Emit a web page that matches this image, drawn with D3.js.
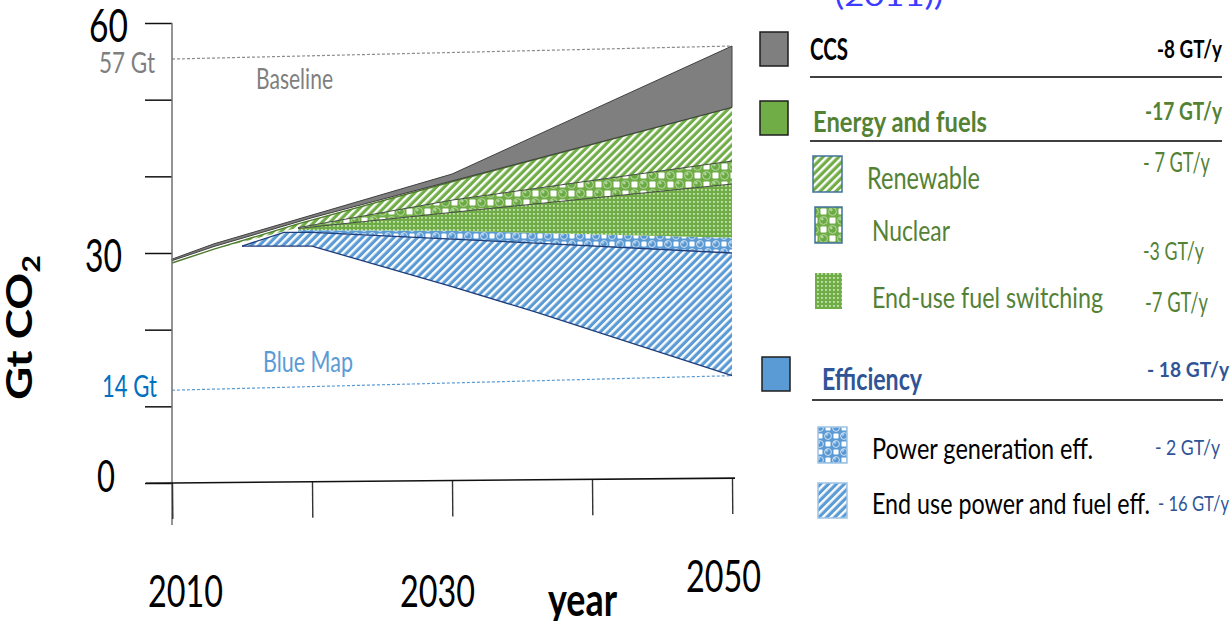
<!DOCTYPE html>
<html>
<head>
<meta charset="utf-8">
<script src="https://cdn.jsdelivr.net/npm/d3@7"></script>
<style>
  html, body { margin: 0; padding: 0; background: #fff; overflow: hidden; }
  svg { display: block; }
  text { font-family: Lato, "Noto Sans", sans-serif; }
</style>
</head>
<body>
<svg id="chart" width="1231" height="621"></svg>
<script>
// ---- data: CO2 emission wedges, each point is [year, lower Gt, upper Gt] ----
const ccs           = [[2010, 29.0, 29.2], [2013, 30.85, 31.2], [2020, 34.6, 34.95], [2030, 39.4, 40.3], [2050, 49, 57]];
const renewable     = [[2010, 28.7, 28.7], [2013, 30.5, 30.5], [2019, 33.3, 33.8], [2030, 36.9, 39.3], [2050, 42, 49]];
const nuclear       = [[2019, 33.2, 33.3], [2030, 35.3, 36.9], [2050, 39, 42]];
const fuelSwitching = [[2019, 33.0, 33.2], [2030, 32.9, 35.3], [2050, 32, 39]];
const powerGenEff   = [[2019, 32.7, 33.0], [2030, 31.8, 32.9], [2050, 30, 32]];
const endUseEff     = [[2015, 30.9, 30.9], [2018, 30.9, 32.7], [2020, 30.9, 32.7], [2030, 25.6, 31.8], [2036, 22.3, 31.3], [2050, 14, 30]];

// reference scenarios: [year, Gt]
const baselineRef = [[2010, 55.3], [2050, 57]];
const blueMapRef  = [[2010, 12.1], [2050, 14]];

// axes
const yTicks      = [0, 10, 20, 30, 40, 50, 60];
const yTickLabels = [0, 30, 60];
const xTicks      = [2010, 2020, 2030, 2040, 2050];
const xTickLabels = [2010, 2030, 2050];

// legend
const groupNames  = ["CCS", "Energy and fuels", "Efficiency"];
const groupValues = ["-8 GT/y", "-17 GT/y", "- 18 GT/y"];
const itemNames   = ["Renewable", "Nuclear", "End-use fuel switching", "Power generation eff.", "End use power and fuel eff."];
const itemValues  = ["- 7 GT/y", "-3 GT/y", "-7 GT/y", "- 2 GT/y", "- 16 GT/y"];

// ---- drawing ----
const svg = d3.select("#chart");
const x = d3.scaleLinear().domain([2010, 2050]).range([172, 732]);
const y = d3.scaleLinear().domain([0, 60]).range([483, 23]);

const GREEN = "#70AD47", BLUE = "#5B9BD5", GRAY = "#7F7F7F";
const defs = svg.append("defs");

function hatch(id, bg) {
  const p = defs.append("pattern").attr("id", id)
    .attr("patternUnits", "userSpaceOnUse").attr("width", 5.6).attr("height", 5.6)
    .attr("patternTransform", "rotate(45)");
  p.append("rect").attr("width", 5.6).attr("height", 5.6).attr("fill", bg);
  p.append("rect").attr("width", 2.4).attr("height", 5.6).attr("fill", "#fff");
}
// checker of white tiles and shaded balls
function spheres(id, bg, ball, ring, c) {
  const s = 2 * c;
  const p = defs.append("pattern").attr("id", id)
    .attr("patternUnits", "userSpaceOnUse").attr("width", s).attr("height", s);
  p.append("rect").attr("width", s).attr("height", s).attr("fill", bg);
  [[0, 0], [c, c]].forEach(([a, b]) =>
    p.append("rect").attr("x", a + 1.5).attr("y", b + 1.5).attr("width", c - 3).attr("height", c - 3)
      .attr("rx", 0.8).attr("fill", "#fff"));
  [[c, 0], [0, c]].forEach(([a, b]) => {
    p.append("circle").attr("cx", a + c / 2).attr("cy", b + c / 2).attr("r", c / 2 - 0.6)
      .attr("fill", ball).attr("stroke", ring).attr("stroke-width", 1);
    p.append("circle").attr("cx", a + c / 2 - 1.2).attr("cy", b + c / 2 - 1.4).attr("r", 1.3)
      .attr("fill", "#fff").attr("opacity", 0.5);
  });
}
function dots(id, bg, dot) {
  const p = defs.append("pattern").attr("id", id)
    .attr("patternUnits", "userSpaceOnUse").attr("width", 4).attr("height", 4);
  p.append("rect").attr("width", 4).attr("height", 4).attr("fill", bg);
  p.append("rect").attr("x", 1).attr("y", 1).attr("width", 1.8).attr("height", 1.8).attr("fill", dot);
}
hatch("renewFill", GREEN);
hatch("endUseFill", BLUE);
spheres("nuclearFill", GREEN, "#6AAA42", "#B7D9A0", 9);
spheres("powerFill", BLUE, "#5797D2", "#CFE2F3", 8);
dots("switchFill", GREEN, "#C8E4B4");

const area = d3.area().x(d => x(d[0])).y0(d => y(d[1])).y1(d => y(d[2]));
const lineHi = d3.line().x(d => x(d[0])).y(d => y(d[2]));
const lineLo = d3.line().x(d => x(d[0])).y(d => y(d[1]));
const refLine = d3.line().x(d => x(d[0])).y(d => y(d[1]));

const plot = svg.append("g");

// reference dashed lines
plot.append("path").attr("d", refLine(baselineRef)).attr("fill", "none")
  .attr("stroke", "#8C8C8C").attr("stroke-width", 1.2).attr("stroke-dasharray", "3,2");
plot.append("path").attr("d", refLine(blueMapRef)).attr("fill", "none")
  .attr("stroke", BLUE).attr("stroke-width", 1.2).attr("stroke-dasharray", "3,2");

// wedges, bottom to top
plot.append("path").attr("d", area(endUseEff)).attr("fill", "url(#endUseFill)");
plot.append("path").attr("d", area(powerGenEff)).attr("fill", "url(#powerFill)");
plot.append("path").attr("d", area(fuelSwitching)).attr("fill", "url(#switchFill)");
plot.append("path").attr("d", area(nuclear)).attr("fill", "url(#nuclearFill)");
plot.append("path").attr("d", area(renewable)).attr("fill", "url(#renewFill)");

plot.append("path").attr("d", lineHi(nuclear)).attr("fill", "none").attr("stroke", "#3A3A3A").attr("stroke-width", 0.9);
plot.append("path").attr("d", lineLo(nuclear)).attr("fill", "none").attr("stroke", "#3A3A3A").attr("stroke-width", 0.9);
plot.append("path").attr("d", lineHi(endUseEff)).attr("fill", "none").attr("stroke", "#1F3D7A").attr("stroke-width", 1.3);
plot.append("path").attr("d", lineLo(endUseEff)).attr("fill", "none").attr("stroke", "#1F3D7A").attr("stroke-width", 1.3);
plot.append("path").attr("d", lineHi(renewable)).attr("fill", "none").attr("stroke", "#4E7A2E").attr("stroke-width", 1.4);

plot.append("path").attr("d", area(ccs)).attr("fill", GRAY)
  .attr("stroke", "#404040").attr("stroke-width", 1).attr("stroke-linejoin", "round");

// y axis
const yAxis = svg.append("g").attr("transform", "translate(172,0)")
  .call(d3.axisLeft(y).tickValues(yTicks).tickSize(27).tickFormat(""));
yAxis.select(".domain").remove();
yAxis.selectAll(".tick line").attr("stroke", "#111").attr("stroke-width", 1.5);
svg.append("line").attr("x1", 172).attr("x2", 172).attr("y1", y(60)).attr("y2", y(0) + 42)
  .attr("stroke", "#707070").attr("stroke-width", 1.5);

// x axis (slightly tilted, as on the slide)
const xAxis = svg.append("g").attr("transform", `rotate(-0.5, 172, ${y(0)}) translate(0,${y(0)})`)
  .call(d3.axisBottom(x).tickValues(xTicks).tickSize(36).tickFormat(""));
xAxis.select(".domain").remove();
xAxis.selectAll(".tick line").attr("stroke", "#333").attr("stroke-width", 1.4);
xAxis.append("line").attr("x1", 146).attr("x2", x(2050) + 3).attr("y1", 0).attr("y2", 0)
  .attr("stroke", "#111").attr("stroke-width", 1.6);

function label(g, str, x0, yb, size, len, weight, color) {
  return g.append("text").attr("x", x0).attr("y", yb)
    .attr("font-size", size).attr("font-weight", weight).attr("fill", color)
    .attr("textLength", len).attr("lengthAdjust", "spacingAndGlyphs").text(str);
}

// tick labels
const yLabelPos = { 0: [97, 9, 45, 18], 30: [85, 19, 47, 37], 60: [89, 19, 47, 39] };
yTickLabels.forEach(v => {
  const [lx, dy, fs, len] = yLabelPos[v];
  label(svg, String(v), lx, y(v) + dy, fs, len, 400, "#000");
});
const xLabelPos = { 2010: [-24, 124], 2030: [-52, 124], 2050: [-46, 109] };
xTickLabels.forEach(v => {
  const [dx, dy] = xLabelPos[v];
  label(svg, String(v), x(v) + dx, y(0) + dy, 45, 75, 400, "#000");
});
label(svg, "year", 548, 616, 46, 69, 700, "#000");

// y axis title
const yt = svg.append("text").attr("transform", "translate(32,400) scale(0.75,1) rotate(-90)")
  .attr("font-size", 48).attr("font-weight", 700).attr("fill", "#000")
  .attr("textLength", 145).attr("lengthAdjust", "spacingAndGlyphs");
yt.append("tspan").text("Gt CO");
yt.append("tspan").attr("font-size", 32).attr("dy", 10).text("2");

// scenario labels
label(svg, `${baselineRef[1][1]} Gt`, 99, 73, 28, 56, 400, "#7F7F7F");
label(svg, `${blueMapRef[1][1]} Gt`, 102, 397, 30, 55, 400, "#0070C0");
label(svg, "Baseline", 256, 89, 29, 77, 400, "#7F7F7F");
label(svg, "Blue Map", 263, 372, 28, 90, 400, BLUE);

// source note running off the top edge
svg.append("text").attr("x", 835).attr("y", 6).attr("font-family", "'Liberation Mono', monospace")
  .attr("font-size", 26).attr("fill", "#3C3CFF")
  .attr("textLength", 108).attr("lengthAdjust", "spacingAndGlyphs").text("(2011))");

// ---- legend ----
const lg = svg.append("g");
const GREEN_TXT = "#548235", BLUE_TXT = "#2F5597";
const groupLayout = [
  { box: [760, 32], fill: GRAY,  tx: 810, ty: 60,  fs: 31, len: 38,  color: "#000",    vx: 1157, vy: 58,  vfs: 25, vlen: 65, rule: [810, 1222, 77] },
  { box: [760, 101], fill: GREEN, tx: 813, ty: 132, fs: 28, len: 174, color: GREEN_TXT, vx: 1145, vy: 120, vfs: 25, vlen: 77, rule: [810, 1222, 141] },
  { box: [762, 357], fill: BLUE,  tx: 822, ty: 390, fs: 31, len: 100, color: BLUE_TXT,  vx: 1147, vy: 377, vfs: 21, vlen: 82, rule: [812, 1223, 400] }
];
groupNames.forEach((name, i) => {
  const L = groupLayout[i];
  lg.append("rect").attr("x", L.box[0]).attr("y", L.box[1]).attr("width", 28).attr("height", 34)
    .attr("fill", L.fill).attr("stroke", "#1E1E1E").attr("stroke-width", 1.5);
  label(lg, name, L.tx, L.ty, L.fs, L.len, 700, L.color);
  label(lg, groupValues[i], L.vx, L.vy, L.vfs, L.vlen, 700, L.color);
  lg.append("line").attr("x1", L.rule[0]).attr("x2", L.rule[1]).attr("y1", L.rule[2]).attr("y2", L.rule[2])
    .attr("stroke", "#404040").attr("stroke-width", 1.8);
});

const itemLayout = [
  { icon: [813, 156, 29, 36], fill: "url(#renewFill)",   border: "#41719C", tx: 867, ty: 189, fs: 31, len: 113, color: GREEN_TXT, vx: 1143, vy: 172, vfs: 26, vlen: 67, vcolor: GREEN_TXT },
  { icon: [815, 207, 27, 36], fill: "url(#nuclearFill)", border: "#41719C", tx: 872, ty: 241, fs: 29, len: 78,  color: GREEN_TXT, vx: 1143, vy: 260, vfs: 25, vlen: 61, vcolor: GREEN_TXT },
  { icon: [815, 273, 27, 36], fill: "url(#switchFill)",  border: "none",    tx: 872, ty: 308, fs: 29, len: 231, color: GREEN_TXT, vx: 1145, vy: 312, vfs: 26, vlen: 63, vcolor: GREEN_TXT },
  { icon: [818, 427, 29, 36], fill: "url(#powerFill)",   border: "#9DC3E6", tx: 872, ty: 459, fs: 29, len: 221, color: "#000",    vx: 1155, vy: 455, vfs: 21, vlen: 65, vcolor: BLUE_TXT },
  { icon: [818, 483, 29, 35], fill: "url(#endUseFill)",  border: "#9DC3E6", tx: 872, ty: 514, fs: 29, len: 278, color: "#000",    vx: 1158, vy: 511, vfs: 21, vlen: 71, vcolor: BLUE_TXT }
];
itemNames.forEach((name, i) => {
  const L = itemLayout[i];
  lg.append("rect").attr("x", L.icon[0]).attr("y", L.icon[1]).attr("width", L.icon[2]).attr("height", L.icon[3])
    .attr("fill", L.fill).attr("stroke", L.border).attr("stroke-width", 1.5);
  label(lg, name, L.tx, L.ty, L.fs, L.len, 400, L.color);
  label(lg, itemValues[i], L.vx, L.vy, L.vfs, L.vlen, 400, L.vcolor);
});
</script>
</body>
</html>
